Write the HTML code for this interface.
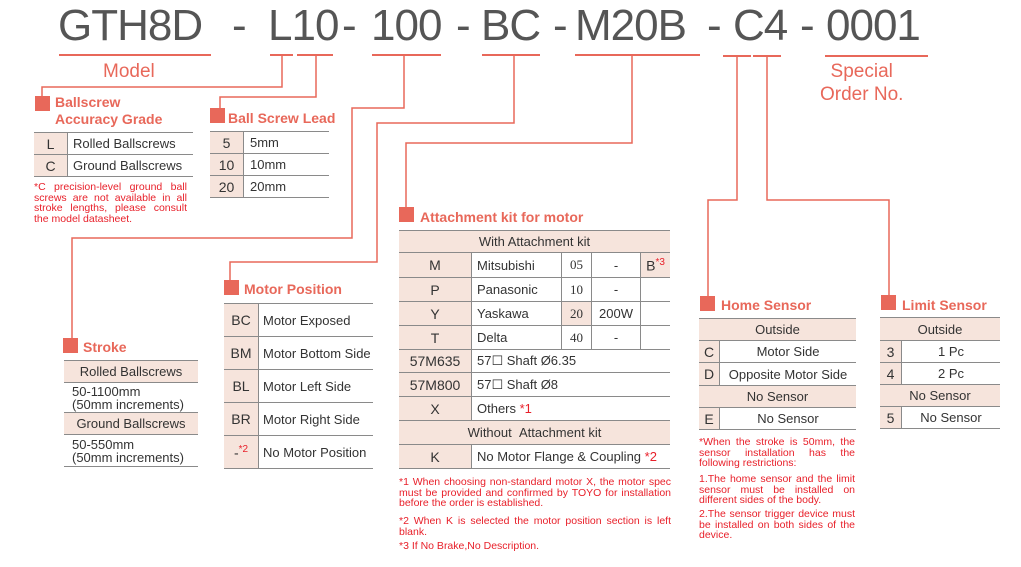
<!DOCTYPE html>
<html><head><meta charset="utf-8"><style>
body{margin:0;width:1021px;height:567px;background:#fff;position:relative;overflow:hidden;font-family:"Liberation Sans","DejaVu Sans",sans-serif;color:#333}
.a{position:absolute}
.hd{position:absolute;top:1px;font-size:44px;color:#555;line-height:50px;letter-spacing:-1px}
.ttl{position:absolute;color:#e8685a;font-weight:bold;font-size:14px;white-space:nowrap}
.sq{position:absolute;width:15px;height:15px;background:#e8685a}
table{position:absolute;border-collapse:collapse;font-size:13px}
td{border-top:1.5px solid #8a8a8a;border-bottom:1.5px solid #8a8a8a;padding:0;white-space:nowrap}
.c{background:#f6e4dc;text-align:center;font-size:14px;border-right:1.5px solid #8a8a8a}
.h{background:#f6e4dc;text-align:center}
.n{color:#e8202a;font-size:10.5px;line-height:10.5px;text-align:justify;position:absolute}
.r{color:#e8202a}
.ln{position:absolute;background:#e8685a}
</style></head><body>
<div class="hd" style="left:58px">GTH8D</div>
<div class="hd" style="left:232px">-</div>
<div class="hd" style="left:268px">L10</div>
<div class="hd" style="left:342px">-</div>
<div class="hd" style="left:371px">100</div>
<div class="hd" style="left:456px">-</div>
<div class="hd" style="left:481px">BC</div>
<div class="hd" style="left:553px">-</div>
<div class="hd" style="left:575px">M20B</div>
<div class="hd" style="left:707px">-</div>
<div class="hd" style="left:733px">C4</div>
<div class="hd" style="left:800px">-</div>
<div class="hd" style="left:826px">0001</div>
<div class="ln" style="left:59px;top:54px;width:152px;height:1.5px"></div>
<div class="ln" style="left:270px;top:54px;width:23px;height:1.5px"></div>
<div class="ln" style="left:297px;top:54px;width:36px;height:1.5px"></div>
<div class="ln" style="left:372px;top:54px;width:69px;height:1.5px"></div>
<div class="ln" style="left:482px;top:54px;width:58px;height:1.5px"></div>
<div class="ln" style="left:575px;top:54px;width:125px;height:1.5px"></div>
<div class="ln" style="left:723px;top:55px;width:28px;height:1.5px"></div>
<div class="ln" style="left:753px;top:55px;width:28px;height:1.5px"></div>
<div class="ln" style="left:825px;top:55px;width:103px;height:1.5px"></div>
<div class="ttl" style="left:103px;top:61px;font-size:19px;font-weight:normal">Model</div>
<div class="ttl" style="left:820px;top:60px;font-size:19px;font-weight:normal;line-height:23px;text-align:center">Special<br>Order No.</div>
<svg class="a" style="left:0;top:0" width="1021" height="567"><g fill="none" stroke="#e8685a" stroke-width="1.5">
<polyline points="282,55 282,87 42,87 42,100"/>
<polyline points="316,55 316,97 220,97 220,110"/>
<polyline points="404,55 404,108 352,108 352,238 72,238 72,340"/>
<polyline points="514,55 514,123 377,123 377,262 230,262 230,282"/>
<polyline points="632,55 632,143 406,143 406,208"/>
<polyline points="737,55 737,200 708,200 708,297"/>
<polyline points="767,55 767,200 889,200 889,297"/>
</g></svg>
<div class="sq" style="left:35px;top:96px"></div>
<div class="ttl" style="left:55px;top:94px;line-height:17px">Ballscrew<br>Accuracy Grade</div>
<table style="left:34px;top:132px;width:159px"><tr style="height:22px"><td class="c" style="width:33px">L</td><td style="padding-left:5px">Rolled Ballscrews</td></tr><tr style="height:22px"><td class="c">C</td><td style="padding-left:5px">Ground Ballscrews</td></tr></table>
<div class="n" style="left:34px;top:182px;width:153px">*C precision-level ground ball screws are not available in all stroke lengths, please consult the model datasheet.</div>
<div class="sq" style="left:210px;top:108px"></div>
<div class="ttl" style="left:228px;top:110px">Ball Screw Lead</div>
<table style="left:210px;top:131px;width:119px"><tr style="height:22px"><td class="c" style="width:33px">5</td><td style="padding-left:6px">5mm</td></tr><tr style="height:22px"><td class="c">10</td><td style="padding-left:6px">10mm</td></tr><tr style="height:22px"><td class="c">20</td><td style="padding-left:6px">20mm</td></tr></table>
<div class="sq" style="left:63px;top:338px"></div>
<div class="ttl" style="left:83px;top:339px">Stroke</div>
<table style="left:64px;top:360px;width:134px"><tr style="height:22px"><td class="h">Rolled Ballscrews</td></tr><tr style="height:30px"><td style="padding-left:8px;line-height:13px">50-1100mm<br>(50mm increments)</td></tr><tr style="height:22px"><td class="h">Ground Ballscrews</td></tr><tr style="height:32px"><td style="padding-left:8px;line-height:13px">50-550mm<br>(50mm increments)</td></tr></table>
<div class="sq" style="left:224px;top:280px"></div>
<div class="ttl" style="left:244px;top:281px">Motor Position</div>
<table style="left:224px;top:303px;width:149px"><tr style="height:33px"><td class="c" style="width:34px">BC</td><td style="padding-left:4px">Motor Exposed</td></tr><tr style="height:33px"><td class="c">BM</td><td style="padding-left:4px">Motor Bottom Side</td></tr><tr style="height:33px"><td class="c">BL</td><td style="padding-left:4px">Motor Left Side</td></tr><tr style="height:33px"><td class="c">BR</td><td style="padding-left:4px">Motor Right Side</td></tr><tr style="height:33px"><td class="c">-<sup class="r" style="font-size:10px">*2</sup></td><td style="padding-left:4px">No Motor Position</td></tr></table>
<div class="sq" style="left:399px;top:207px"></div>
<div class="ttl" style="left:420px;top:209px">Attachment kit for motor</div>
<table style="left:399px;top:230px;width:271px">
<tr style="height:22px"><td class="h" colspan="5">With Attachment kit</td></tr>
<tr style="height:25px"><td class="c" style="width:72px">M</td><td style="width:84px;padding-left:5px;border-right:1.5px solid #8a8a8a">Mitsubishi</td><td style="width:29px;text-align:center;font-family:'Liberation Serif',serif;border-right:1.5px solid #8a8a8a">05</td><td style="width:48px;text-align:center;border-right:1.5px solid #8a8a8a">-</td><td class="h" style="font-size:14px">B<sup class="r" style="font-size:10px">*3</sup></td></tr>
<tr style="height:24px"><td class="c">P</td><td style="padding-left:5px;border-right:1.5px solid #8a8a8a">Panasonic</td><td style="text-align:center;font-family:'Liberation Serif',serif;border-right:1.5px solid #8a8a8a">10</td><td style="text-align:center;border-right:1.5px solid #8a8a8a">-</td><td></td></tr>
<tr style="height:24px"><td class="c">Y</td><td style="padding-left:5px;border-right:1.5px solid #8a8a8a">Yaskawa</td><td class="h" style="font-family:'Liberation Serif',serif;border-right:1.5px solid #8a8a8a">20</td><td style="text-align:center;border-right:1.5px solid #8a8a8a">200W</td><td></td></tr>
<tr style="height:24px"><td class="c">T</td><td style="padding-left:5px;border-right:1.5px solid #8a8a8a">Delta</td><td style="text-align:center;font-family:'Liberation Serif',serif;border-right:1.5px solid #8a8a8a">40</td><td style="text-align:center;border-right:1.5px solid #8a8a8a">-</td><td></td></tr>
<tr style="height:23px"><td class="c">57M635</td><td colspan="4" style="padding-left:5px">57☐ Shaft Ø6.35</td></tr>
<tr style="height:24px"><td class="c">57M800</td><td colspan="4" style="padding-left:5px">57☐ Shaft Ø8</td></tr>
<tr style="height:24px"><td class="c">X</td><td colspan="4" style="padding-left:5px">Others <span class="r">*1</span></td></tr>
<tr style="height:24px"><td class="h" colspan="5">Without &nbsp;Attachment kit</td></tr>
<tr style="height:24px"><td class="c">K</td><td colspan="4" style="padding-left:5px">No Motor Flange &amp; Coupling <span class="r">*2</span></td></tr>
</table>
<div class="n" style="left:399px;top:477px;width:272px">*1 When choosing non-standard motor X, the motor spec must be provided and confirmed by TOYO for installation before the order is established.</div>
<div class="n" style="left:399px;top:516px;width:272px">*2 When K is selected the motor position section is left blank.</div>
<div class="n" style="left:399px;top:541px;width:272px">*3 If No Brake,No Description.</div>
<div class="sq" style="left:700px;top:296px"></div>
<div class="ttl" style="left:721px;top:297px">Home Sensor</div>
<table style="left:699px;top:318px;width:157px">
<tr style="height:22px"><td class="h" colspan="2">Outside</td></tr>
<tr style="height:22px"><td class="c" style="width:20px">C</td><td style="text-align:center">Motor Side</td></tr>
<tr style="height:23px"><td class="c">D</td><td style="text-align:center">Opposite Motor Side</td></tr>
<tr style="height:22px"><td class="h" colspan="2">No Sensor</td></tr>
<tr style="height:22px"><td class="c">E</td><td style="text-align:center">No Sensor</td></tr></table>
<div class="n" style="left:699px;top:437px;width:156px">*When the stroke is 50mm, the sensor installation has the following restrictions:</div>
<div class="n" style="left:699px;top:474px;width:156px">1.The home sensor and the limit sensor must be installed on different sides of the body.</div>
<div class="n" style="left:699px;top:509px;width:156px">2.The sensor trigger device must be installed on both sides of the device.</div>
<div class="sq" style="left:881px;top:295px"></div>
<div class="ttl" style="left:902px;top:297px">Limit Sensor</div>
<table style="left:880px;top:317px;width:120px">
<tr style="height:23px"><td class="h" colspan="2">Outside</td></tr>
<tr style="height:22px"><td class="c" style="width:21px">3</td><td style="text-align:center">1 Pc</td></tr>
<tr style="height:22px"><td class="c">4</td><td style="text-align:center">2 Pc</td></tr>
<tr style="height:22px"><td class="h" colspan="2">No Sensor</td></tr>
<tr style="height:22px"><td class="c">5</td><td style="text-align:center">No Sensor</td></tr></table>
</body></html>
